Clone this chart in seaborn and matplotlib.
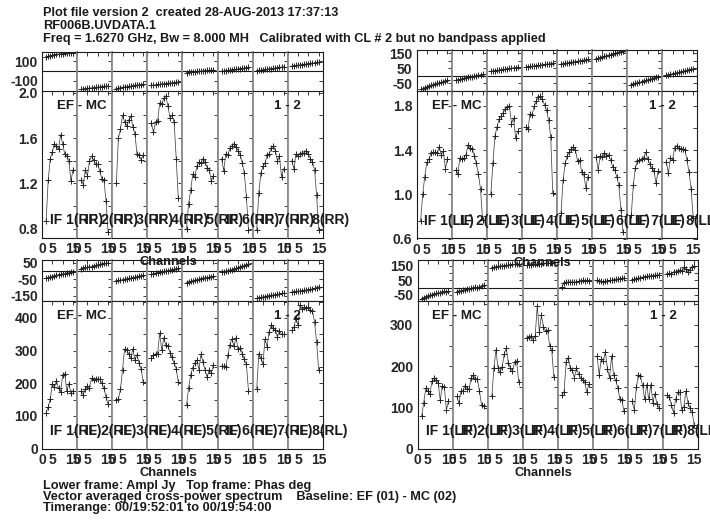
import matplotlib
matplotlib.use("Agg")
import matplotlib.pyplot as plt
import seaborn as sns

# ── Data ──────────────────────────────────────────────────────────────────────
CHANNELS = list(range(2, 16))
IF_NUMS = list(range(1, 9))

# amplitude (Jy) per IF, stokes RR / LL / RL / LR
AMP_RR = [
    [0.87, 1.23, 1.42, 1.48, 1.55, 1.53, 1.50, 1.63, 1.55, 1.46, 1.44, 1.40, 1.22, 1.32],
    [1.23, 1.19, 1.32, 1.27, 1.40, 1.44, 1.41, 1.37, 1.37, 1.31, 1.24, 1.23, 1.05, 0.77],
    [1.20, 1.60, 1.68, 1.80, 1.74, 1.71, 1.76, 1.79, 1.70, 1.64, 1.46, 1.45, 1.41, 1.45],
    [1.73, 1.65, 1.74, 1.75, 1.91, 1.90, 1.95, 1.97, 1.88, 1.78, 1.80, 1.74, 1.42, 1.07],
    [0.80, 1.02, 1.14, 1.28, 1.26, 1.35, 1.39, 1.38, 1.42, 1.39, 1.34, 1.32, 1.22, 1.27],
    [1.42, 1.31, 1.46, 1.45, 1.51, 1.53, 1.55, 1.52, 1.49, 1.45, 1.38, 1.29, 1.08, 0.79],
    [0.79, 1.12, 1.29, 1.35, 1.38, 1.45, 1.46, 1.51, 1.53, 1.49, 1.40, 1.44, 1.26, 1.33],
    [1.40, 1.33, 1.46, 1.44, 1.46, 1.47, 1.47, 1.49, 1.46, 1.42, 1.39, 1.32, 1.10, 0.79],
]
AMP_LL = [
    [0.76, 1.00, 1.16, 1.29, 1.32, 1.37, 1.38, 1.38, 1.37, 1.43, 1.36, 1.39, 1.23, 1.32],
    [1.22, 1.18, 1.33, 1.32, 1.33, 1.36, 1.45, 1.42, 1.41, 1.35, 1.28, 1.18, 1.05, 0.77],
    [1.00, 1.28, 1.53, 1.61, 1.68, 1.71, 1.74, 1.77, 1.79, 1.80, 1.64, 1.69, 1.51, 1.57],
    [1.61, 1.59, 1.73, 1.72, 1.80, 1.84, 1.88, 1.89, 1.86, 1.81, 1.76, 1.67, 1.52, 1.01],
    [0.83, 1.13, 1.28, 1.35, 1.38, 1.41, 1.43, 1.40, 1.30, 1.31, 1.20, 1.18, 1.06, 1.16],
    [1.34, 1.22, 1.35, 1.34, 1.37, 1.35, 1.36, 1.31, 1.25, 1.22, 1.16, 1.08, 0.86, 0.66],
    [0.81, 1.08, 1.24, 1.30, 1.31, 1.32, 1.33, 1.38, 1.32, 1.27, 1.24, 1.21, 1.10, 1.21],
    [1.29, 1.19, 1.33, 1.31, 1.42, 1.44, 1.42, 1.41, 1.41, 1.40, 1.31, 1.20, 1.05, 0.79],
]
AMP_RL = [
    [110, 127, 152, 199, 188, 207, 185, 174, 224, 229, 177, 199, 171, 177],
    [175, 165, 183, 190, 186, 215, 211, 213, 214, 212, 200, 184, 158, 136],
    [150, 152, 182, 242, 305, 302, 290, 278, 305, 272, 288, 262, 244, 205],
    [278, 286, 290, 291, 353, 301, 340, 316, 314, 294, 279, 262, 244, 205],
    [132, 185, 226, 248, 262, 270, 242, 290, 264, 240, 218, 242, 232, 255],
    [253, 252, 249, 285, 318, 336, 314, 340, 304, 309, 290, 273, 258, 177],
    [182, 290, 277, 258, 336, 312, 357, 378, 369, 364, 342, 360, 350, 350],
    [362, 372, 398, 378, 440, 426, 433, 430, 433, 423, 420, 388, 326, 240],
]
AMP_LR = [
    [79, 112, 147, 140, 132, 164, 172, 168, 160, 118, 152, 150, 94, 116],
    [127, 111, 140, 141, 153, 146, 146, 172, 178, 170, 170, 140, 107, 105],
    [127, 196, 240, 195, 186, 198, 230, 244, 208, 196, 188, 210, 213, 163],
    [268, 272, 273, 264, 274, 346, 283, 323, 296, 285, 287, 250, 240, 174],
    [131, 138, 211, 221, 195, 191, 172, 196, 181, 172, 167, 162, 137, 157],
    [224, 180, 217, 214, 235, 194, 172, 225, 178, 166, 148, 122, 118, 91],
    [115, 95, 149, 180, 176, 154, 120, 156, 120, 156, 112, 134, 108, 100],
    [130, 126, 107, 88, 120, 137, 138, 95, 102, 140, 112, 98, 90, 58],
]

# phase (deg)
PHS_RR = [
    [138, 148, 155, 160, 164, 168, 171, 174, 177, 179, 181, 183, 185, 186],
    [-183, -180, -177, -175, -172, -170, -168, -165, -163, -161, -158, -156, -153, -150],
    [-177, -172, -168, -165, -162, -158, -155, -152, -149, -146, -143, -140, -137, -134],
    [-145, -142, -139, -136, -134, -131, -128, -126, -123, -121, -118, -116, -113, -110],
    [-15, -12, -10, -8, -6, -4, -2, 0, 2, 4, 6, 8, 10, 12],
    [-2, 1, 4, 7, 10, 13, 16, 19, 22, 25, 28, 31, 34, 38],
    [4, 7, 10, 13, 16, 19, 22, 25, 28, 31, 34, 37, 40, 44],
    [52, 55, 58, 61, 63, 66, 69, 72, 75, 78, 81, 84, 87, 91],
]
PHS_LL = [
    [-90, -84, -78, -73, -68, -63, -58, -54, -50, -46, -42, -38, -34, -30],
    [-28, -25, -22, -19, -16, -13, -10, -7, -4, -1, 2, 5, 8, 11],
    [32, 34, 36, 38, 40, 42, 44, 46, 48, 50, 52, 54, 56, 58],
    [60, 62, 64, 65, 67, 69, 71, 73, 75, 77, 79, 80, 82, 84],
    [80, 82, 85, 87, 89, 92, 94, 96, 99, 101, 103, 106, 108, 110],
    [115, 119, 123, 127, 131, 135, 139, 143, 147, 151, 155, 159, 163, 168],
    [-58, -54, -50, -46, -42, -38, -34, -30, -26, -22, -18, -14, -10, -5],
    [5, 8, 12, 15, 18, 21, 25, 28, 31, 35, 38, 42, 45, 49],
]
PHS_RL = [
    [-45, -40, -35, -34, -28, -26, -22, -20, -16, -18, -10, -12, -5, -4],
    [15, 18, 22, 24, 27, 25, 30, 34, 36, 40, 44, 48, 47, 50],
    [-60, -57, -55, -52, -50, -47, -45, -42, -40, -37, -34, -31, -28, -25],
    [-18, -15, -12, -10, -7, -5, -2, 0, 3, 5, 8, 10, 13, 16],
    [-70, -66, -62, -60, -56, -53, -50, -46, -43, -40, -42, -37, -34, -31],
    [-6, -4, -1, 2, 6, 9, 13, 16, 20, 24, 28, 33, 38, 44],
    [-165, -162, -160, -157, -155, -152, -150, -148, -146, -143, -141, -139, -136, -133],
    [-128, -126, -124, -122, -121, -119, -117, -115, -113, -111, -108, -105, -101, -97],
]
PHS_LR = [
    [-75, -68, -62, -58, -52, -50, -46, -40, -35, -38, -30, -25, -28, -22],
    [-30, -22, -25, -18, -15, -10, -12, -5, -2, 3, 0, 8, 12, 18],
    [138, 142, 145, 148, 150, 152, 153, 155, 157, 158, 160, 161, 163, 165],
    [155, 157, 158, 160, 161, 163, 164, 166, 167, 168, 170, 171, 172, 174],
    [8, 35, 40, 38, 42, 40, 37, 42, 45, 48, 52, 47, 50, 48],
    [50, 47, 44, 40, 46, 48, 50, 52, 55, 57, 60, 62, 64, 68],
    [53, 58, 63, 66, 70, 73, 75, 78, 80, 82, 84, 86, 88, 90],
    [92, 100, 95, 110, 105, 115, 120, 112, 140, 130, 108, 125, 140, 148],
]

# ── Figure setup ─────────────────────────────────────────────────────────────
W, H = 710, 520
sns.set_style("white")
plt.rcParams["font.family"] = ["Liberation Sans", "DejaVu Sans"]
plt.rcParams["font.weight"] = "bold"
FS_TICK = 10
FS_TEXT = 9.2
FS_PANEL = 9.6
INK = "#1a1a1a"

fig = plt.figure(figsize=(W / 100, H / 100), dpi=100)


def fx(px):
    return px / W


def fy(py):
    return 1 - py / H


def style_ax(ax, i, show_ylab, show_xlab):
    ax.set_xlim(0, 17)
    ax.set_xticks([0, 5, 10, 15])
    ax.set_xticklabels(["0", "5", "", "15"] if show_xlab else [])
    if not show_ylab:
        ax.set_yticklabels([])
    ax.tick_params(direction="in", top=True, right=True, length=3, width=0.6,
                   color=INK, labelsize=FS_TICK, pad=3)
    ax.set_xlabel("")
    ax.set_ylabel("")
    for side in ("top", "bottom"):
        ax.spines[side].set_color(INK)
        ax.spines[side].set_linewidth(0.8)
    for side in ("left", "right"):
        outer = (side == "left" and i == 0) or (side == "right" and i == 7)
        ax.spines[side].set_color(INK if outer else "#8a8a8a")
        ax.spines[side].set_linewidth(0.8 if outer else 1.3)


def draw_quadrant(left, top, mid, bot, amp, phs, pol,
                  amp_lim, amp_ticks, amp_labels,
                  phs_lim, phs_ticks, phs_labels):
    pw = 35.1
    for i in range(8):
        x0 = left + i * pw
        axp = fig.add_axes([fx(x0), fy(mid), fx(pw), (mid - top) / H])
        axa = fig.add_axes([fx(x0), fy(bot), fx(pw), (bot - mid) / H])

        sns.lineplot(x=CHANNELS, y=phs[i], ax=axp, color="#444444", lw=0.55,
                     marker="+", markersize=4, markeredgewidth=0.7,
                     markeredgecolor="#222222")
        axp.axhline(0, color=INK, lw=0.8)
        axp.set_ylim(*phs_lim)
        axp.set_yticks(phs_ticks)
        axp.set_yticklabels([str(v) if v in phs_labels else "" for v in phs_ticks])
        style_ax(axp, i, i == 0, False)

        sns.lineplot(x=CHANNELS, y=amp[i], ax=axa, color="#444444", lw=0.55,
                     marker="+", markersize=4.5, markeredgewidth=0.7,
                     markeredgecolor="#222222")
        axa.set_ylim(*amp_lim)
        axa.set_yticks(amp_ticks)
        axa.set_yticklabels(amp_labels)
        style_ax(axa, i, i == 0, True)

        fig.text(fx(x0 + 8), fy(bot - 18), f"IF {IF_NUMS[i]}({pol})",
                 fontsize=FS_PANEL + 0.4, fontweight="bold", va="center",
                 ha="left", color=INK)

    fig.text(fx(left + 15), fy(mid + 15), "EF - MC", fontsize=FS_PANEL,
             fontweight="bold", va="center", ha="left", color=INK)
    fig.text(fx(left + 259), fy(mid + 15), "1 - 2", fontsize=FS_PANEL,
             fontweight="bold", va="center", ha="right", color=INK)
    fig.text(fx(left + 126), fy(bot + 24), "Channels", fontsize=FS_PANEL - 0.3,
             fontweight="bold", va="center", ha="center", color=INK)


# top-left: RR
draw_quadrant(42, 52, 91.5, 238, AMP_RR, PHS_RR, "RR",
              (0.72, 2.01), [0.8, 1.0, 1.2, 1.4, 1.6, 1.8, 2.0],
              ["0.8", "", "1.2", "", "1.6", "", "2.0"],
              (-207, 193), [-200, -100, 0, 100], [-100, 100])
# top-right: LL
draw_quadrant(416.5, 50, 91, 238.5, AMP_LL, PHS_LL, "LL",
              (0.6, 1.935), [0.6, 0.8, 1.0, 1.2, 1.4, 1.6, 1.8],
              ["0.6", "", "1.0", "", "1.4", "", "1.8"],
              (-100, 173), [-100, -50, 0, 50, 100, 150], [-50, 50, 150])
# bottom-left: RL
draw_quadrant(42, 260, 301, 448.5, AMP_RL, PHS_RL, "RL",
              (0, 452), [0, 50, 100, 150, 200, 250, 300, 350, 400, 450],
              ["0", "", "100", "", "200", "", "300", "", "400", ""],
              (-182, 67), [-150, -100, -50, 0, 50], [-150, -50, 50])
# bottom-right: LR
draw_quadrant(417.5, 260, 301, 449, AMP_LR, PHS_LR, "LR",
              (0, 358), [0, 50, 100, 150, 200, 250, 300, 350],
              ["0", "", "100", "", "200", "", "300", ""],
              (-92, 191), [-50, 0, 50, 100, 150], [-50, 50, 150])

# ── Header / footer text ─────────────────────────────────────────────────────
header = [
    (13, "Plot file version 2  created 28-AUG-2013 17:37:13"),
    (26, "RF006B.UVDATA.1"),
    (39, "Freq = 1.6270 GHz, Bw = 8.000 MH   Calibrated with CL # 2 but no bandpass applied"),
]
footer = [
    (486, "Lower frame: Ampl Jy   Top frame: Phas deg"),
    (497, "Vector averaged cross-power spectrum    Baseline: EF (01) - MC (02)"),
    (508, "Timerange: 00/19:52:01 to 00/19:54:00"),
]
for y, s in header + footer:
    fig.text(fx(43), fy(y), s, fontsize=FS_TEXT, fontweight="bold",
             va="center", ha="left", color=INK)

fig.savefig("out.png", dpi=100)
